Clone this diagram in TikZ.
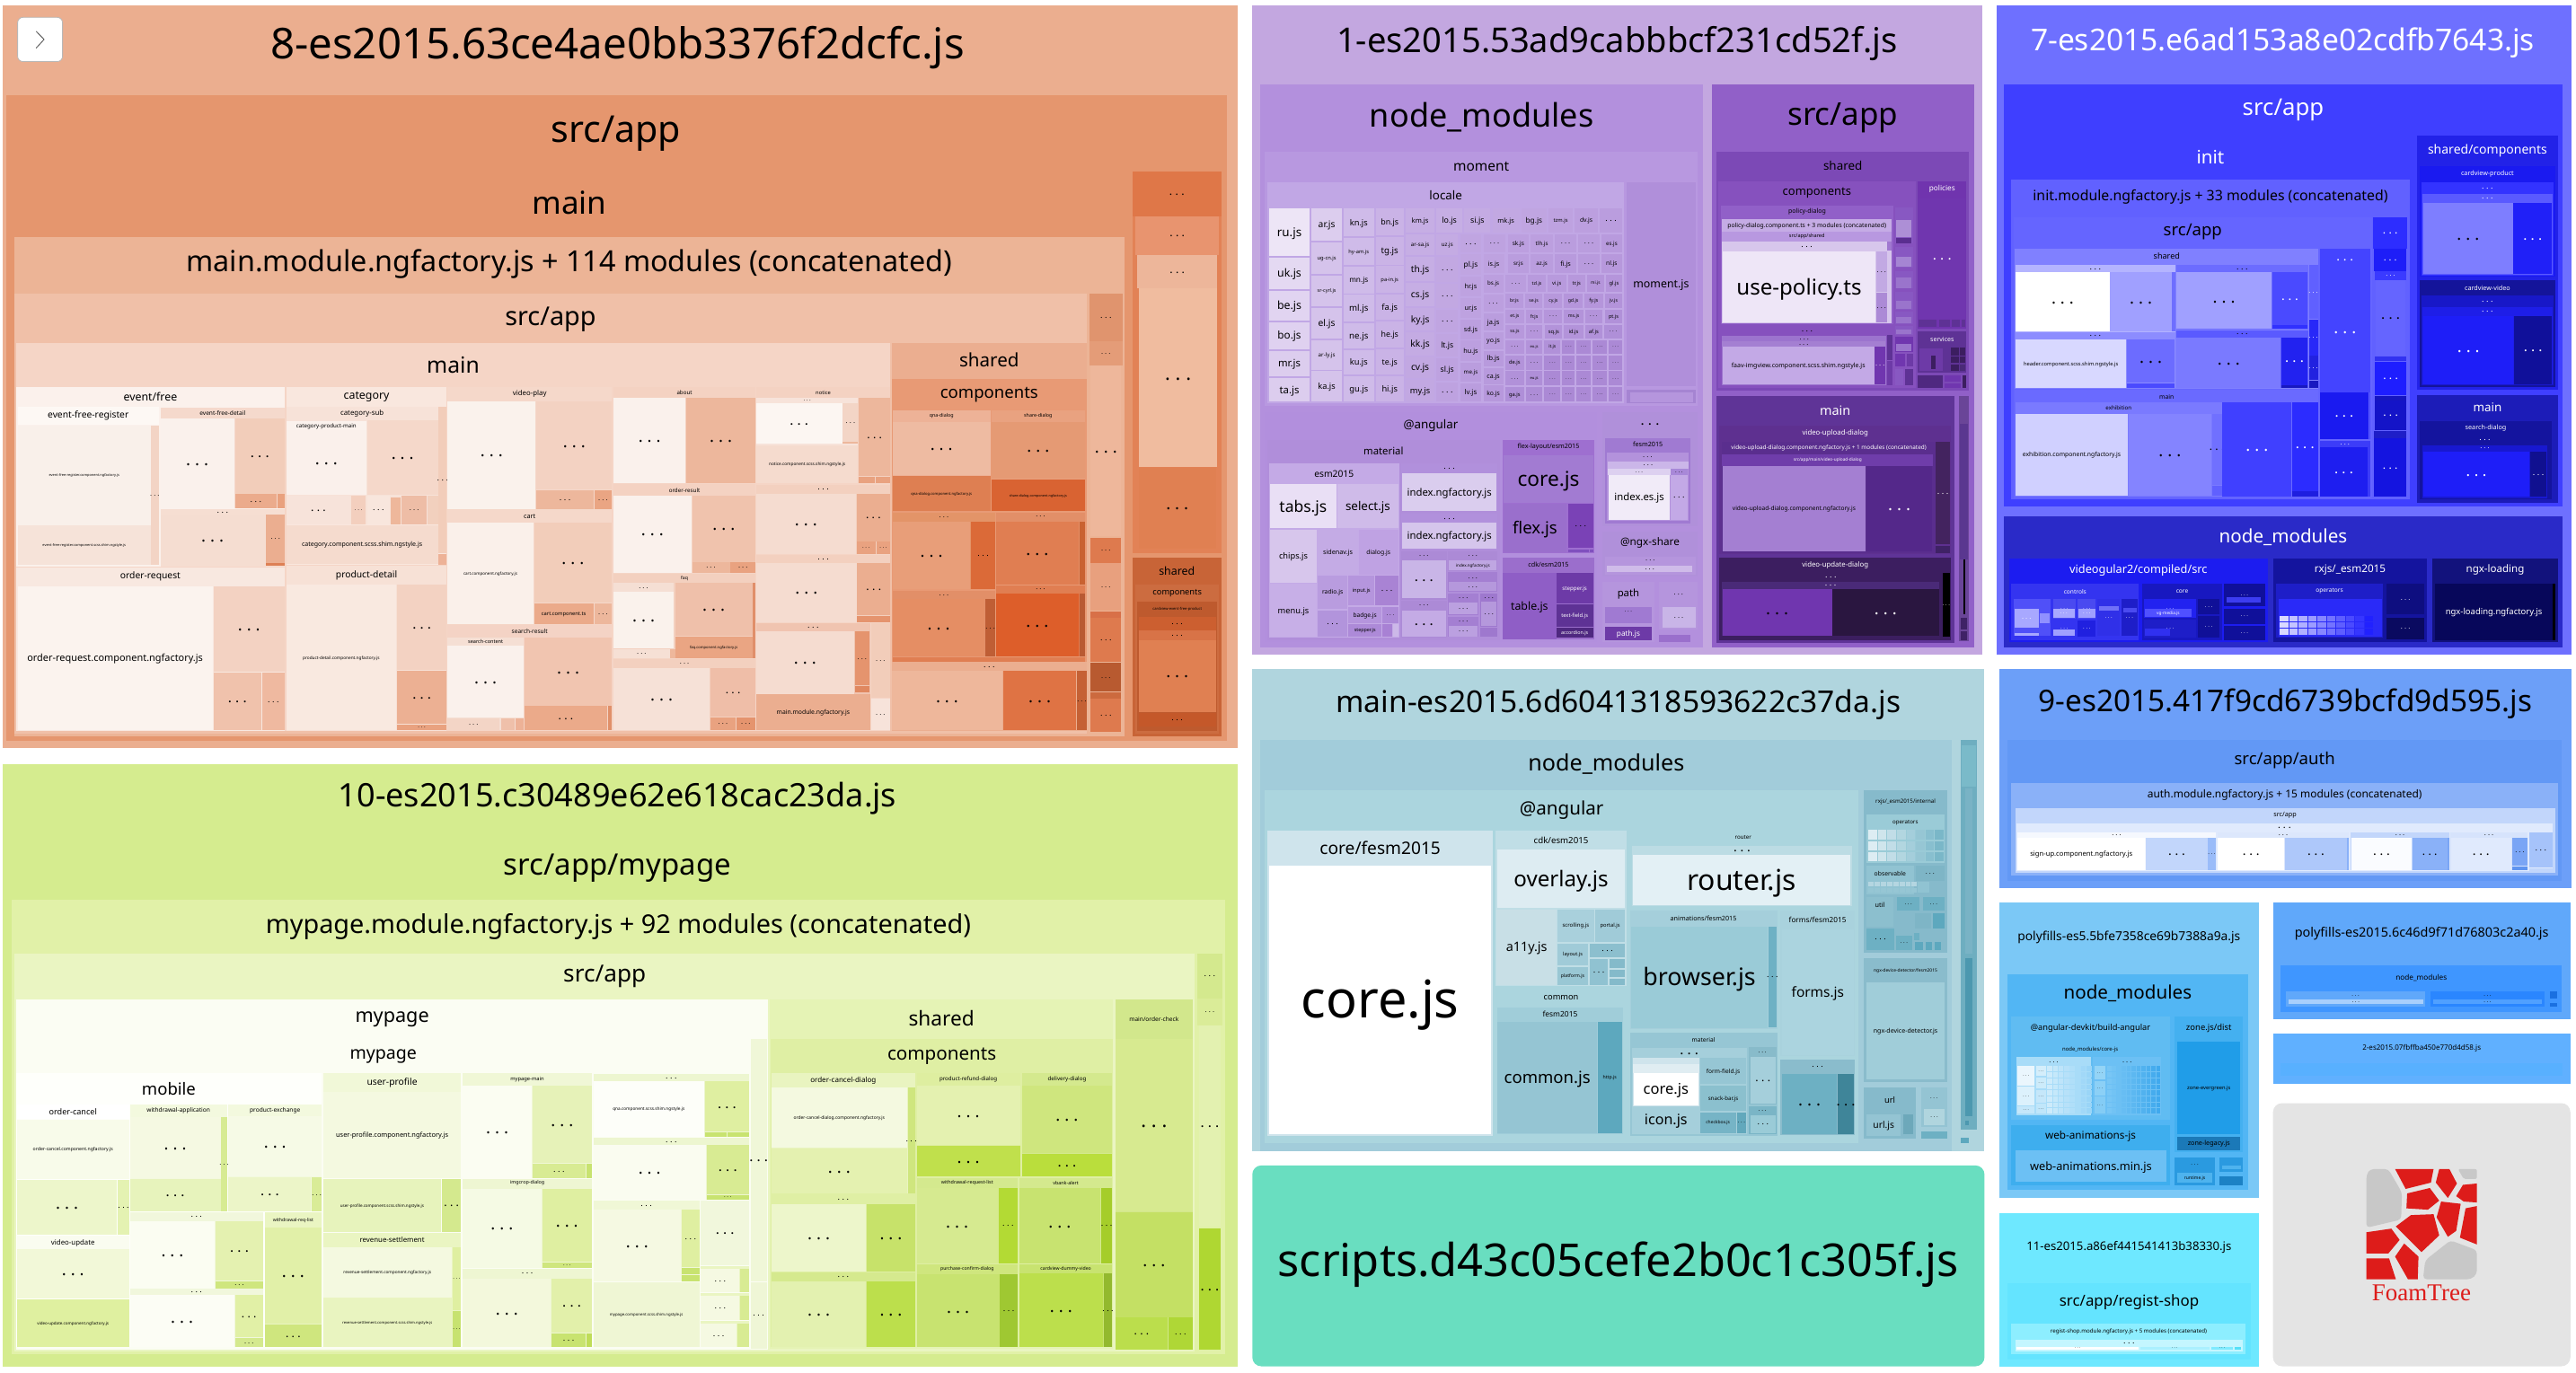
\documentclass[tikz,border=0pt]{standalone}
\usepackage{fontspec}
\setmainfont{Noto Sans}
\newfontfamily\logofont{Liberation Serif}
\newcount\nodeno
\tikzset{
  lbl/.style={/utils/exec={\global\advance\nodeno by 1},name=n\the\nodeno,inner sep=0pt,text=black},
  fs/.style={font=\fontsize{\fpeval{1.03*#1}}{\fpeval{1.03*#1}}\selectfont,yshift={-0.1pt*#1}},
  crop/.style n args={4}{shift={(#1pt,#2pt)},x=#3pt,y=#4pt},
  logored/.style={fill=logor},
  loggrey/.style={fill=logog}
}
\definecolor{logor}{HTML}{DD1C1A}
\definecolor{logog}{HTML}{C8C8C8}
\definecolor{btnline}{HTML}{B8B8B8}
\definecolor{scriptc}{HTML}{69DEC0}
\definecolor{panelc}{HTML}{E4E4E4}
\definecolor{corehi}{HTML}{D0ECFB}
\definecolor{corelo}{HTML}{88CEF6}
\definecolor{corebhi}{HTML}{78C6F5}
\definecolor{coreblo}{HTML}{3AA6EC}
\definecolor{tealhi}{HTML}{E3F0F5}
\definecolor{teallo}{HTML}{6DB0C3}
\newcommand{\D}{\bfseries\fontsize{\the\dimexpr1.5\fontdimen6\font}{1}\selectfont.\kern.27em.\kern.27em.}
\newcommand{\cells}[1]{\foreach \xa/\ya/\xb/\yb/\col in {#1}{%
  \edef\tmp{\noexpand\definecolor{cellc}{HTML}{\col}}\tmp
  \fill[cellc] (\xa,\ya) rectangle (\xb,\yb);}}
\newcommand{\tiles}[1]{\foreach \xa/\ya/\xb/\yb/\col/\fs/\txt in {#1}{%
  \edef\tmp{\noexpand\definecolor{cellc}{HTML}{\col}}\tmp
  \fill[cellc] (\xa,\ya) rectangle node[lbl,fs=\fs] {\txt} (\xb,\yb);}}
\newcommand{\groups}[1]{\foreach \xa/\ya/\xb/\yb/\col/\fs/\yl/\txt in {#1}{%
  \edef\tmp{\noexpand\definecolor{cellc}{HTML}{\col}}\tmp
  \fill[cellc] (\xa,\ya) rectangle (\xb,\yb);
  \pgfmathsetmacro\cx{(\xa+\xb)/2}
  \node[lbl,fs=\fs] at (\cx,\yl) {\txt};}}
\newcommand{\lbls}[1]{\foreach \xa/\ya/\fs/\txt in {#1}{%
  \node[lbl,fs=\fs] at (\xa,\ya) {\txt};}}
\begin{document}
\begin{tikzpicture}
\useasboundingbox (0pt,0pt) rectangle (1434pt,-764pt);
% bundle 8
\begin{scope}[crop={0}{0}{0.44643}{-0.26786}]
\cells{3/12/1543/1555/EBAE8F,8/198/1530/1540/E5966E}
\lbls{770/90/23/8-es2015.63ce4ae0bb3376f2dcfc.js,768/270/20/{src/app},710/415/17/main}
\fill[white,draw=btnline,rounded corners=3pt] (22,36) rectangle (78,128);
\draw[black!70] (45,65) -- (55,82) -- (45,100);
\groups{18/492/1402/1530/ECB496/15.7/543/main.module.ngfactory.js + 114 modules (concatenated),
18/610/1355/1525/F0C0A8/14/658/{src/app},20/713/1110/1520/F5D5C6/12/755/main,
1112/713/1355/1520/EBAE90/10/745/shared,1112/788/1355/1375/E89A75/9/818/components}
\cells{1412/450/1523/1150/E28256}
\tiles{1412/357/1523/450/DF7748/4/\D,1416/450/1520/530/E8946F/4/\D,1418/530/1518/600/EDB69A/4/\D,1420/600/1518/970/F0BC9F/7/\D,1420/972/1516/1140/E08052/6/\D}
\groups{1412/1160/1523/1530/C86437/6/1184/shared,1416/1215/1520/1525/CC6C40/4.5/1232/components,1418/1250/1518/1520/BE5A2E/2/1265/cardview-event-free-product}
\tiles{1420/1282/1516/1310/CC5F30/3/\D,1420/1310/1516/1330/D87347/3/\D,1420/1330/1516/1480/E08052/6/\D,1420/1482/1516/1510/C4582A/3/\D}
\tiles{1358/610/1400/710/E0946E/3/\D,1358/710/1400/760/E49C78/2.5/\D,1360/760/1398/1115/EEB79B/6/\D,1360/1118/1398/1170/DE7A4E/2.5/\D,1360/1170/1398/1270/E8A07E/2.5/\D,
1360/1285/1398/1375/DE7A4E/3/\D,1360/1378/1398/1438/B85A30/2.5/\D,1360/1452/1398/1522/DE7A4E/3/\D}
\cells{1360/1272/1398/1285/D87048,1360/1440/1398/1452/CC6A3E}
% main column
\groups{20/805/355/1178/FBF1EC/6/822/{event/free},22/846/198/882/FDF8F4/5/862/event-free-register}
\tiles{22/884/188/1092/F9F0EA/1.9/event-free-register.component.ngfactory.js,22/1092/188/1175/F6E3D9/1.9/event-free-register.component.scss.shim.ngstyle.js,188/884/198/1175/F3D4C5/2.5/\D}
\groups{200/848/355/1056/F5D9CC/3.2/857/event-free-detail}
\tiles{200/870/292/1056/FAF1EC/6/\D,293/870/355/1026/F2CDBA/5/\D,293/1027/345/1056/EBAB8C/3/\D}
\cells{346/1027/355/1056/E9A17E}
\groups{200/1058/355/1178/F6DED2/3/1064/\D}
\tiles{200/1070/330/1176/F5DDD1/6/\D,332/1070/355/1170/EBAE90/2.5/\D}
\cells{332/1170/355/1176/DD8055}
\groups{20/1180/355/1520/F8E8E0/5/1196/order-request}
\tiles{22/1218/265/1518/FBF3EE/5.3/order-request.component.ngfactory.js,266/1218/355/1396/F3D2C2/6/\D,266/1398/326/1518/F0C2AC/5/\D,327/1398/355/1518/EFB9A0/3/\D}
\groups{357/805/557/1175/F9E7DE/6/822/category,357/846/546/1090/F7E2D8/3.8/858/category-sub}
\tiles{357/895/457/1028/FAF0EB/6/\D,458/874/546/1028/F5D8CA/6/\D,357/1030/437/1090/F7E3DA/4/\D,438/1030/456/1090/F3CFBE/2/\D,458/1030/486/1090/F8E6DD/3/\D,501/1030/532/1090/EEBDA6/2.5/\D,
357/1092/546/1172/F5DBCE/3.4/category.component.scss.shim.ngstyle.js,547/846/557/1150/F2CDBA/3/\D}
\groups{357/875/457/895/FBF2ED/3/885/category-product-main}
\cells{487/1035/500/1090/EEB79B,533/1030/546/1090/F2D0BE,547/1152/557/1175/EDB297}
\groups{357/1176/557/1520/F7E1D6/5/1194/product-detail}
\tiles{357/1216/494/1518/F9E9E0/2.3/product-detail.component.ngfactory.js,495/1216/557/1392/F3D2C2/5/\D,495/1394/557/1505/ECB093/5/\D,495/1506/557/1518/E9A280/2/\D}
\groups{558/805/763/1058/F5D8CA/3.8/817/video-play}
\tiles{558/834/668/1058/FAF2EC/6/\D,669/834/763/1018/F3D2C2/6/\D,669/1020/740/1058/EDB79C/3/\D,741/1020/763/1058/EAA583/2.5/\D}
\groups{558/1058/763/1298/F5D8CA/3.5/1072/cart}
\tiles{558/1087/665/1298/FAF0EA/2.2/cart.component.ngfactory.js,666/1087/763/1253/F2CDBA/6/\D,666/1254/740/1298/EBAA8A/2.8/cart.component.ts,741/1254/763/1298/EDB79C/2.5/\D}
\groups{558/1299/763/1518/F4D3C5/3.2/1311/search-result,558/1325/653/1518/F5DFD4/2.7/1333/search-content}
\tiles{558/1342/653/1492/FAF1EC/6/\D,558/1494/623/1518/F3D5C6/2.5/\D,654/1325/763/1467/F1C5B0/6/\D,654/1468/757/1518/EBAA8A/4/\D}
\cells{625/1494/642/1518/EFC0AA,643/1494/653/1518/EDB297,758/1468/763/1518/E0906A}
\groups{765/805/942/1005/F4D2C2/3/815/about}
\tiles{765/827/855/1005/FAF1EC/6/\D,856/827/942/1005/EDB79C/6/\D}
\groups{765/1007/942/1190/F4D2C2/3/1018/order-result}
\tiles{765/1030/862/1190/FAF1EC/6/\D,863/1030/942/1168/F0C3AD/6/\D,863/1169/910/1190/EDB79C/2.5/\D,911/1169/942/1190/E9A280/2.5/\D}
\groups{765/1192/942/1368/F3D0BF/2.5/1201/faq,765/1212/840/1348/F5DFD4/2.5/1221/\D}
\tiles{765/1230/840/1348/FAF2EC/6/\D,765/1350/835/1368/F6E0D5/2.5/\D,842/1212/938/1322/EFC0AA/6/\D,842/1323/938/1368/EAA583/2/faq.component.ngfactory.js}
\cells{836/1350/842/1368/EEB79B,939/1212/942/1368/E08F6A}
\groups{765/1370/942/1518/F3D0BF/2.5/1379/\D}
\tiles{765/1388/885/1518/F6E1D7/6/\D,886/1388/942/1490/EFBEA8/4/\D,886/1491/917/1518/E9A280/2.5/\D,918/1491/942/1518/E5946E/2.5/\D}
\groups{943/805/1110/1005/F4D2C2/2.8/815/notice,943/827/1070/1005/F7E3DA/2/832/\D}
\tiles{943/838/1050/923/FCF6F2/5/\D,1051/838/1070/918/F3D5C6/2.5/\D,943/925/1070/1005/F5DBCE/2.3/notice.component.scss.shim.ngstyle.js,1071/827/1110/990/EDB79C/4/\D}
\cells{1051/918/1070/923/EDB79C,1071/991/1091/1005/E9A280,1092/991/1110/1005/E9A280}
\groups{943/1008/1110/1152/F3D0BF/3/1016/\D}
\tiles{943/1026/1067/1152/F5DCD0/6/\D,1068/1026/1110/1125/EBAE90/4/\D,1068/1126/1092/1152/E9A280/2/\D,1093/1126/1110/1152/E9A280/2/\D}
\groups{943/1154/1110/1293/F3D0BF/3/1161/\D}
\tiles{943/1170/1068/1293/F5DCD0/6/\D,1069/1170/1110/1278/EBAE90/4/\D}
\cells{1069/1280/1110/1293/E5946E}
\groups{943/1295/1085/1442/F0C4B0/3/1303/\D}
\tiles{943/1312/1065/1442/F5DCD0/6/\D,1066/1312/1084/1425/E5946E/2.5/\D,943/1443/1085/1518/EBAE90/3.3/main.module.ngfactory.js,1086/1295/1110/1450/F2CDBA/2.5/\D,1086/1453/1110/1518/F7E3DA/2.5/\D}
\cells{1066/1427/1084/1440/E08860}
% shared column
\groups{1113/853/1235/1062/EDB297/2.6/863/qna-dialog,1236/853/1353/1063/E9A280/2.6/863/share-dialog}
\tiles{1113/877/1235/988/EEBBA2/6/\D,1113/990/1235/1063/DE7F52/2/qna-dialog.component.ngfactory.js,1236/877/1353/995/E59A74/6/\D,1236/997/1353/1063/D96332/1.8/share-dialog.component.ngfactory.js}
\groups{1113/1065/1241/1225/E39468/2.5/1074/\D,1242/1065/1353/1215/E28F68/2.5/1073/\D}
\tiles{1113/1084/1210/1225/E89E79/6/\D,1211/1084/1241/1225/DB6A38/3/\D,1242/1084/1345/1215/E07E52/6/\D}
\cells{1346/1084/1353/1215/C96231}
\groups{1113/1228/1241/1365/E28F68/2.5/1236/\D,1242/1217/1353/1365/E07E52/2.5/1224/\D}
\tiles{1113/1245/1228/1365/E58E64/6/\D,1229/1245/1241/1365/BF5E35/2.5/\D,1242/1233/1345/1365/DD5E2A/6/\D}
\cells{1346/1233/1353/1365/B95A33,1113/1367/1353/1375/E07E52}
\groups{1112/1378/1355/1520/EBAE90/3/1386/\D}
\tiles{1112/1395/1250/1518/EEB79B/6/\D,1251/1395/1342/1518/DF7344/6/\D,1343/1395/1355/1518/C56135/2.5/\D}
\end{scope}
% bundle 10
\begin{scope}[crop={0}{-420}{0.44643}{-0.21939}]
\cells{3/25/1543/1555/D5EC8F}
\lbls{770/105/17.5/10-es2015.c30489e62e618cac23da.js,770/282/16/{src/app/mypage}}
\groups{14/370/1528/1522/E1F1A8/14/430/mypage.module.ngfactory.js + 92 modules (concatenated),18/505/1490/1515/EAF5C2/12.7/557/{src/app}}
\tiles{1493/505/1524/620/D4E98E/3/\D,1493/620/1524/688/DAEC98/2.5/\D,1495/688/1522/1198/E3F1B0/5/\D,1495/1204/1522/1510/AFD732/5/\D}
\groups{20/621/958/1510/FBFDF3/10.5/667/mypage,20/810/401/1505/FEFFFB/9/845/mobile}
\lbls{478/762/9.5/mypage}
\tiles{936/722/956/1338/F0F7D8/5/\D,936/1340/956/1508/EFF6D6/3/\D}
\groups{21/888/161/925/FFFFFF/4.4/906/order-cancel}
\tiles{21/927/161/1078/F8FBEA/2.5/order-cancel.component.ngfactory.js,21/1080/146/1220/EDF6CB/6/\D,147/1080/161/1220/E4F2B2/3/\D}
\groups{21/1222/161/1255/FAFCF0/3.8/1238/video-update}
\tiles{21/1256/161/1382/F2F8D8/6/\D,21/1384/161/1505/DFF0A0/2.2/video-update.component.ngfactory.js}
\groups{162/888/283/1160/F3F9DE/3.2/903/withdrawal-application}
\tiles{162/920/275/1076/F5F9E2/6/\D,162/1078/275/1160/E7F3BC/5/\D,276/920/283/1160/D7EB93/2.5/\D}
\groups{285/888/401/1160/F3F9DE/3.2/903/product-exchange}
\tiles{285/918/401/1072/F6FAE6/6/\D,285/1074/388/1160/ECF5C8/5/\D,389/1074/401/1160/D9EC97/2.5/\D}
\groups{162/1163/328/1355/F1F7DC/3/1173/\D}
\tiles{162/1185/268/1355/FBFDF2/6/\D,269/1185/328/1335/E4F1B0/5/\D,269/1337/328/1355/CFE67E/2.5/\D}
\groups{162/1357/328/1505/F1F7DC/3/1364/\D}
\tiles{162/1373/292/1505/FCFDF5/6/\D,293/1373/328/1480/E1F0A6/4/\D,293/1482/328/1505/D4E98E/2.5/\D}
\groups{330/1163/401/1505/EAF5C2/2.5/1181/withdrawal-req-list}
\tiles{330/1200/401/1445/E1F0A8/6/\D,330/1447/401/1505/CFE67E/4/\D}
\groups{403/810/575/1075/F1F8D8/5/832/user-profile}
\tiles{403/857/575/1075/F4F9E0/3.6/user-profile.component.ngfactory.js,403/1077/550/1213/E7F3BC/2.2/user-profile.component.scss.shim.ngstyle.js,551/1077/575/1213/D4E98E/4/\D}
\groups{403/1215/575/1505/EAF5C2/3.8/1231/revenue-settlement}
\tiles{403/1250/563/1378/F4F9E0/2.3/revenue-settlement.component.ngfactory.js,403/1380/563/1505/E9F4C0/2/revenue-settlement.component.scss.shim.ngstyle.js,564/1250/575/1410/DFEFA1/2/\D,564/1412/575/1505/C7E270/2/\D}
\groups{577/810/738/1075/F0F7D6/2.8/824/mypage-main}
\tiles{577/841/663/1075/FBFDF2/6/\D,664/841/738/1038/E6F2B8/6/\D,664/1040/730/1075/D8EB93/3/\D}
\cells{731/1040/738/1075/C8E370}
\groups{577/1077/738/1303/EEF6D2/2.6/1087/imgcrop-dialog}
\tiles{577/1102/675/1303/F5FAE4/6/\D,676/1102/738/1288/DFEFA1/6/\D,676/1289/738/1303/CFE67E/2/\D}
\groups{577/1306/738/1505/EEF6D2/3/1317/\D}
\tiles{577/1330/687/1505/F3F8DC/6/\D,688/1330/738/1468/E2F0AA/5/\D,688/1470/730/1505/C8E370/3/\D}
\cells{731/1470/738/1505/BFDD58}
\groups{740/812/934/970/EDF6D0/3/821/\D}
\tiles{740/830/878/970/FDFEF9/2.3/qna.component.scss.shim.ngstyle.js,879/830/934/958/DFEFA1/5/\D}
\cells{879/960/906/970/C8E370,907/960/934/970/C8E370}
\groups{740/973/934/1130/EDF6D0/3/984/\D}
\tiles{740/992/880/1130/FAFCF0/6/\D,881/992/934/1117/D8EB93/5/\D,881/1118/934/1130/C8E370/2/\D}
\groups{740/1133/872/1338/F0F7D6/3/1144/\D}
\tiles{740/1155/849/1338/F5F9E2/6/\D,850/1155/872/1302/DFEFA1/3/\D}
\cells{850/1304/872/1320/C8E370,850/1322/872/1338/C8E370}
\tiles{874/1133/934/1296/F1F7DC/5/\D}
\cells{874/1298/934/1366/EAF5C2,874/1368/934/1435/EAF5C2,874/1437/934/1505/EAF5C2}
\tiles{874/1305/922/1366/F5F9E2/3/\D,874/1375/922/1435/F5F9E2/3/\D,874/1445/918/1505/F5F9E2/3/\D}
\cells{923/1305/934/1366/D8EB93,923/1375/934/1435/D8EB93,919/1445/934/1505/D8EB93}
\tiles{740/1340/872/1505/EFF6D4/2.1/mypage.component.scss.shim.ngstyle.js}
\groups{960/621/1388/1508/E5F3B5/11/665/shared,961/722/1388/1505/DFEFA4/10/762/components}
\groups{962/810/1141/1115/E9F4C0/3.9/827/order-cancel-dialog}
\tiles{962/846/1131/998/F4F9E0/2.4/order-cancel-dialog.component.ngfactory.js,962/1000/1131/1115/E4F1B0/6/\D,1132/846/1141/1115/CFE67E/3/\D}
\groups{962/1117/1141/1312/DFEFA4/3/1130/\D}
\tiles{962/1142/1080/1312/EDF6CB/6/\D,1081/1142/1141/1312/C7E26A/6/\D}
\groups{962/1314/1141/1505/D5E98E/3/1326/\D}
\tiles{962/1338/1080/1505/E3F1B0/6/\D,1081/1338/1141/1505/BCDF4C/6/\D}
\groups{1143/810/1272/1072/DEEEA0/3/824/product-refund-dialog}
\tiles{1143/841/1272/992/E4F1B0/6/\D,1143/994/1272/1072/C0E04C/6/\D}
\groups{1274/810/1387/1072/D4E98E/3/824/delivery-dialog}
\tiles{1274/841/1387/1012/CFE67E/6/\D,1274/1014/1387/1072/BADE3C/5/\D}
\groups{1143/1075/1269/1292/D4E98E/2.6/1087/withdrawal-request-list}
\tiles{1143/1100/1244/1292/D6EA90/6/\D,1245/1100/1269/1292/B3DA34/3/\D}
\groups{1271/1075/1387/1292/D4E98E/2.6/1087/vbank-alert}
\tiles{1271/1100/1372/1292/C8E370/6/\D,1373/1100/1387/1292/A5CD2A/3/\D}
\groups{1143/1295/1269/1505/CFE67E/2.5/1305/purchase-confirm-dialog}
\tiles{1143/1320/1246/1505/C8E370/6/\D,1247/1320/1269/1505/9FC832/3/\D}
\groups{1271/1295/1387/1505/C8E370/2.5/1305/cardview-dummy-video}
\tiles{1271/1318/1375/1505/BCDF4C/6/\D,1376/1318/1387/1505/93B92E/3/\D}
\groups{1391/621/1487/1510/D2E78C/3.2/670/{main/order-check}}
\tiles{1391/722/1487/1160/D7EA90/7/\D,1391/1162/1487/1428/C4E064/6/\D,1391/1430/1456/1510/BBDE4C/4/\D,1457/1430/1487/1510/AFD736/3/\D}
\end{scope}
% bundle 1
\begin{scope}[crop={695}{0}{0.26467}{-0.23597}]
\cells{8/13/1543/1545/C3A7E0}
\lbls{775/95/18.5/1-es2015.53ad9cabbbcf231cd52f.js}
\groups{25/200/956/1527/B390DD/17.5/270/node\_modules,34/358/945/958/B898E0/7.5/390/moment,40/430/790/952/C1A7E5/6.5/457/locale}
\tiles{796/430/940/912/B08FDA/6/moment.js}
\cells{796/920/940/952/A584D2,802/925/935/950/B595DD}
\tiles{43/492/129/604/EDE5F6/6.5/ru.js,43/608/129/682/E4D9F2/6/uk.js,43/686/129/756/E1D4F1/6/be.js,43/760/129/824/DFD1F0/5.7/bo.js,43/828/129/888/DCCDEE/5.5/mr.js,43/892/129/948/DCCDEE/5.5/ta.js,
133/492/196/568/DCCDEE/5/ar.js,133/572/196/646/D5C3EB/2.8/ug-cn.js,133/650/196/722/D5C3EB/2.6/sr-cyrl.js,133/726/196/798/D5C3EB/5/el.js,133/802/196/872/D5C3EB/3/ar-ly.js,133/876/196/948/D5C3EB/4.5/ka.js,
200/492/264/558/CFBBE9/4.5/kn.js,200/562/264/626/CFBBE9/2.8/hy-am.js,200/630/264/692/CFBBE9/4/mn.js,200/696/264/758/CFBBE9/4.7/ml.js,200/762/264/822/CFBBE9/4.7/ne.js,200/826/264/884/CFBBE9/4.5/ku.js,200/888/264/948/CFBBE9/4.5/gu.js,
268/492/326/556/CAB3E6/4.3/bn.js,268/560/326/624/CAB3E6/4.7/tg.js,268/628/326/690/CAB3E6/2.8/pa-in.js,268/694/326/754/CAB3E6/4.5/fa.js,268/758/326/820/CAB3E6/4.3/he.js,268/824/326/884/CAB3E6/4.3/te.js,268/888/326/948/CAB3E6/4.5/hi.js,
331/492/391/548/C6AEE4/3.7/km.js,395/492/450/548/C6AEE4/4.3/lo.js,454/492/509/548/C4ABE3/4.3/si.js,513/492/570/548/C2A8E2/3.6/mk.js,574/492/627/548/C0A5E1/4/bg.js,631/492/682/548/BEA2E0/2.8/tzm.js,686/492/735/548/BC9FDF/3.3/dv.js,739/492/786/548/BA9DDE/3/\D,
331/552/391/602/C6AEE4/3/ar-sa.js,331/606/391/664/C6AEE4/5/th.js,331/668/391/722/C6AEE4/5/cs.js,331/726/391/780/C4ABE3/5/ky.js,331/784/391/838/C4ABE3/5/kk.js,331/842/391/892/C2A8E2/5/cv.js,331/896/391/948/C2A8E2/4.5/my.js,
395/552/441/602/C4ABE3/3/uz.js,395/606/441/666/C2A8E2/3/\D,395/670/441/726/C2A8E2/3/\D,395/730/441/784/C0A5E1/3/\D,395/788/441/842/C0A5E1/4.2/lt.js,395/846/441/898/BEA2E0/4.2/sl.js,395/902/441/948/BEA2E0/3/\D,
445/552/490/596/C0A5E1/3/\D,445/600/490/648/C0A5E1/4/pl.js,445/652/490/700/BEA2E0/3.5/hr.js,445/704/490/750/BEA2E0/3.5/ur.js,445/754/490/800/BC9FDF/3.5/sd.js,445/804/490/852/BC9FDF/3.5/hu.js,445/856/490/900/BA9DDE/3/me.js,445/904/490/948/BA9DDE/3.8/lv.js,
494/552/541/596/BEA2E0/2.5/\D,494/600/538/644/BEA2E0/3.5/is.js,494/648/536/690/BC9FDF/3/bs.js,494/694/536/736/BC9FDF/2.5/\D,494/740/536/780/BA9DDE/3.6/ja.js,494/784/536/824/BA9DDE/3.4/yo.js,494/828/536/864/B89ADD/3.6/lb.js,494/868/536/906/B89ADD/3.4/ca.js,494/910/536/948/B798DC/3.3/ko.js,
545/552/590/596/BC9FDF/3.2/sk.js,594/552/640/596/BC9FDF/3/tlh.js,644/552/690/596/BA9DDE/2.5/\D,694/552/738/596/BA9DDE/2.5/\D,742/552/786/596/B89ADD/3/es.js,
545/600/590/644/BA9DDE/3/sr.js,594/600/640/644/BA9DDE/3/az.js,644/600/690/644/B89ADD/3.5/fi.js,694/600/738/644/B89ADD/2.5/\D,742/600/786/644/B798DC/3.2/nl.js,
540/648/584/688/BA9DDE/2.2/\D,588/648/625/688/B89ADD/2.5/tzl.js,629/648/668/688/B89ADD/2.8/vi.js,672/648/708/688/B798DC/2.8/tr.js,712/648/748/688/B595DB/2.3/mi.js,752/648/786/688/B595DB/2.8/gl.js,
540/692/578/726/B89ADD/2.5/br.js,582/692/618/726/B89ADD/2.5/se.js,622/692/660/726/B798DC/2.5/cy.js,664/692/702/726/B595DB/2.5/gd.js,706/692/746/726/B595DB/2.7/fy.js,750/692/786/726/B393DA/2.5/jv.js,
540/730/580/762/B89ADD/2.5/et.js,584/730/618/762/B798DC/2.6/fr.js,622/730/660/762/B595DB/2/\D,664/730/704/762/B393DA/2.5/ms.js,708/730/744/762/B393DA/2/\D,750/730/786/762/B191D9/2.7/pt.js,
540/766/580/798/B798DC/2.5/ss.js,584/766/618/798/B595DB/2/\D,624/766/660/798/B393DA/2.8/sq.js,664/766/704/798/B393DA/2.8/id.js,708/766/744/798/B191D9/2.8/af.js,748/766/786/798/AF8FD8/2/\D,
540/802/580/834/B595DB/2/\D,584/802/618/834/B393DA/2/eo.js,622/802/656/834/B191D9/2.4/it.js,
540/838/580/872/B393DA/2.8/de.js,584/838/618/872/B191D9/2/\D,
540/876/580/910/B191D9/2/\D,584/876/618/910/AF8FD8/2/eu.js,
540/914/580/948/AF8FD8/2.8/ga.js,584/914/618/948/AD8CD6/2/\D}
\definecolor{cellc}{HTML}{AB89D5}
\foreach \ua/\ub in {802/834,838/872,876/910,914/948}{\foreach \va/\vb in {660/686,690/720,724/754,758/786}{\fill[cellc] (\va,\ua) rectangle node[lbl,fs=1.6]{\D} (\vb,\ub);}}
\foreach \ua/\ub in {838/872,876/910,914/948}{\fill[cellc] (622,\ua) rectangle node[lbl,fs=1.6]{\D} (656,\ub);}
\groups{34/972/733/1515/B28FDD/6.5/1002/@angular,40/1038/528/1510/B08EDA/5.5/1062/material,43/1094/317/1505/C4AAE6/5/1116/esm2015}
\tiles{45/1143/185/1246/E9DFF5/8.5/tabs.js,187/1143/315/1246/CFBBE9/6.5/select.js,45/1250/144/1375/D7C6EC/4.5/chips.js,146/1250/230/1356/C4ABE5/3.5/sidenav.js,232/1250/315/1356/BFA2E3/3.3/dialog.js,45/1378/144/1503/C7AFE7/4.5/menu.js,146/1358/208/1436/B99CDF/3.3/radio.js,210/1358/265/1428/B595DD/2.8/input.js,267/1358/315/1428/A983D4/3/\D,146/1440/208/1503/B294DC/3/\D,210/1432/280/1470/B595DD/3.2/badge.js,282/1432/315/1470/AD8AD8/2/\D,210/1472/280/1503/AD8AD8/2.6/stepper.js}
\cells{282/1472/302/1503/A881D4,304/1472/315/1503/CCB8E8}
\groups{321/1094/524/1205/B190DC/3/1104/\D,321/1212/524/1296/B190DC/3/1223/\D}
\tiles{323/1117/522/1205/DACDEE/5.5/index.ngfactory.js,323/1234/522/1294/D5C5EC/5.5/index.ngfactory.js}
\groups{321/1300/417/1415/AC8AD6/2.5/1310/\D,420/1300/524/1348/AC8AD6/2.5/1310/\D,420/1350/524/1396/A47FD2/2.5/1364/\D,321/1418/417/1505/AC8AD6/2.5/1428/\D,420/1400/484/1452/A47FD2/2.5/1410/\D,420/1456/484/1503/A47FD2/2.5/1466/\D,488/1400/524/1478/9E78CE/2.5/1410/\D}
\tiles{323/1322/415/1412/C9B5E7/5/\D,422/1322/522/1346/BFA6E2/2.2/index.ngfactory.js,422/1374/522/1394/B598DC/2.5/\D,323/1440/415/1502/C4ABE5/5/\D,422/1422/482/1450/BBA0E0/2.5/\D,422/1476/482/1502/BBA0E0/2.5/\D,490/1420/522/1476/B598DC/2.5/\D}
\cells{488/1482/524/1503/9E78CE}
\groups{535/1038/727/1306/9E6FD0/3.5/1053/{flex-layout/esm2015}}
\tiles{537/1075/725/1186/A27BD2/11/core.js,537/1188/668/1304/9A6FCC/9/flex.js,672/1188/725/1292/7A42B6/3/\D}
\cells{672/1296/716/1304/8050BE,718/1296/725/1304/8050BE}
\groups{535/1316/727/1508/9B6ECC/3.5/1331/{cdk/esm2015}}
\tiles{535/1352/647/1508/8F5EC6/6/table.js}
\begin{scope}[lbl/.append style={text=white}]
\tiles{647/1352/725/1424/6D3AA7/3/stepper.js,647/1426/725/1478/5E3295/2.8/text-field.js,647/1480/725/1505/4F2880/2.6/accordion.js}
\end{scope}
\groups{744/972/945/1242/B090DA/5/1000/\D,750/1033/930/1236/A07AD2/3.5/1047/fesm2015,754/1068/925/1228/B392DC/2.5/1078/\D,756/1090/925/1105/CBB6E9/2.5/1097/\D}
\tiles{756/1107/887/1120/DDD0F0/2/\D,888/1107/923/1120/A888D8/2/\D,758/1120/886/1226/F1EBF8/5.5/index.es.js,888/1120/923/1226/C3A9E6/3/\D}
\groups{744/1254/945/1360/B090DA/5.7/1279/@ngx-share,750/1314/940/1355/B595DD/2.5/1322/\D}
\tiles{754/1335/934/1350/CFBBE9/2.5/\D}
\groups{744/1373/854/1515/B595DD/5.5/1399/path,750/1432/848/1470/A07AD2/2/1443/\D}
\begin{scope}[lbl/.append style={text=white}]
\tiles{750/1478/848/1510/6D3AA7/4/path.js}
\end{scope}
\groups{864/1373/945/1485/B595DD/2.5/1402/\D}
\tiles{870/1432/940/1480/C9B5E7/2.5/\D}
\cells{864/1498/930/1515/9A6FCC}
\groups{975/200/1526/1527/9160C8/17/270/{src/app},984/358/1516/922/7C49B6/6.5/388/shared,988/428/1403/916/8651BE/6.3/452/components,994/485/1356/765/9160C8/3.4/498/policy-dialog,996/518/1353/763/C5ACE5/3.3/531/policy-dialog.component.ts + 3 modules (concatenated),996/546/1353/763/B898E0/2.7/557/{src/app/shared},996/570/1353/763/D7C6EC/3/581/\D}
\tiles{997/593/1319/761/EEE6F7/11.7/use-policy.ts,1320/593/1343/688/C2A9E3/2.5/\D,1320/690/1343/761/AC8AD6/2.5/\D}
\cells{1344/570/1353/592/A078D0,1360/490/1397/575/8858C2,1362/520/1395/560/AD8FD6,1362/562/1395/575/5A2E90,1360/583/1397/632/8858C2,1362/605/1395/630/A585D3,1360/640/1397/680/8858C2,1362/655/1395/680/9A74CC,1360/688/1397/730/8858C2,1362/710/1395/728/9A74CC,1360/735/1397/765/8858C2,1362/748/1395/763/9A74CC,
1360/770/1397/790/8858C2,1362/778/1395/788/9A74CC,1360/795/1397/830/7036AF,1362/812/1395/828/9A74CC,1360/835/1380/865/7036AF,1384/835/1397/865/6D3AA7,1360/870/1378/908/8858C2,1380/870/1397/908/5E3295}
\groups{994/770/1356/910/8651BE/3/781/\D,996/793/1342/908/9C74CE/2.5/799/\D,996/806/1340/818/A47FD2/2.5/812/\D}
\tiles{997/818/1316/906/C3A9E6/3.4/faav-imgview.component.scss.shim.ngstyle.js}
\begin{scope}[lbl/.append style={text=white}]
\tiles{1317/818/1340/906/7036AF/2.5/\D}
\cells{1344/790/1354/850/5E3295,1344/852/1354/908/6D3AA7}
\groups{1408/428/1510/775/7034AE/4/444/policies}
\tiles{1410/468/1508/752/7036AF/5/\D}
\cells{1410/755/1448/772/5E3295,1452/755/1476/772/5E3295,1480/755/1497/772/5E3295,1500/755/1508/772/5E3295}
\groups{1408/782/1510/880/5E3295/3.4/800/services}
\cells{1412/822/1460/875/6D3AA7,1436/840/1446/870/3C1E60,1478/820/1495/838/3C1E60,1497/820/1507/838/3C1E60,1478/842/1495/855/3C1E60,1497/842/1507/855/3C1E60,1478/860/1495/875/3C1E60,1497/860/1507/875/4A2A78,1408/885/1460/915/4F2880,1465/885/1498/900/7036AF,1465/904/1498/915/7036AF,1502/885/1510/915/3C1E60}
\groups{984/934/1484/1517/5F3497/7/965/main,990/1005/1478/1308/5E3090/3.8/1021/video-upload-dialog,996/1042/1445/1305/5A2E8E/3.1/1056/video-upload-dialog.component.ngfactory.js + 1 modules (concatenated),996/1072/1440/1100/6F3DAA/2.3/1084/{src/app/main/video-upload-dialog}}
\tiles{1300/1100/1438/1300/54288A/6/\D,1446/1042/1475/1285/43235F/3/\D}
\cells{1446/1288/1475/1305/3F2266}
\end{scope}
\tiles{997/1100/1298/1300/A47FD2/3.2/video-upload-dialog.component.ngfactory.js}
\begin{scope}[lbl/.append style={text=white}]
\groups{990/1316/1478/1510/3C1E60/3.8/1333/video-update-dialog,996/1374/1453/1500/4A2A78/3/1381/\D}
\lbls{1225/1362/3/\D}
\tiles{1228/1390/1452/1500/2A1640/6/\D,1460/1352/1475/1503/000000/2/\D}
\end{scope}
\tiles{997/1390/1227/1500/7036AF/6/\D}
\cells{1494/934/1516/1512/6A4598,1496/1000/1514/1320/5A3790,1503/1320/1507/1450/000000,1498/1458/1512/1485/3F2266,1498/1490/1512/1510/3F2266}
\end{scope}
% bundle 7
\begin{scope}[crop={1105}{0}{0.20982}{-0.23597},lbl/.append style={text=white}]
\cells{30/13/1555/1545/6E70FF}
\lbls{790/95/16.3/7-es2015.e6ad153a8e02cdfb7643.js}
\groups{50/200/1532/1196/3F3FFF/12.5/254/{src/app}}
\lbls{598/366/10/init}
\begin{scope}[lbl/.append style={text=black}]
\groups{70/423/1126/1178/6161FF/7.7/462/init.module.ngfactory.js + 33 modules (concatenated),75/512/1027/1175/6565FF/9/543/{src/app},79/587/885/918/8080FF/4.4/602/shared,80/626/505/783/B4B4FF/3/634/\D,507/626/858/778/6C6CFF/3/634/\D}
\tiles{81/643/331/781/FFFFFF/6/\D,332/643/495/781/A0A0FF/6/\D,508/643/760/776/A0A0FF/6/\D}
\cells{496/643/505/781/6E6EFF}
\groups{80/785/505/916/8C8CFF/3/792/\D,507/780/858/916/5A5AFF/3/787/\D}
\tiles{81/800/375/916/D8D8FF/2.8/header.component.scss.shim.ngstyle.js,377/800/503/903/6C6CFF/6/\D,508/796/785/916/7A7AFF/6/\D}
\groups{79/920/885/1172/6A6AFF/3.3/935/main,81/950/628/1172/7A7AFF/3/961/exhibition}
\tiles{81/976/379/1170/D0D0FF/3.3/exhibition.component.ngfactory.js,380/976/601/1170/8484FF/6/\D,602/976/628/1145/7070FF/4/\D}
\end{scope}
\tiles{762/643/856/767/4A4AFF/4.5/\D,859/626/883/752/6060FF/2.5/\D,859/755/883/838/2828F8/2.5/\D,859/840/883/896/2222E0/2.5/\D,786/796/856/908/2222F0/5/\D,630/950/813/1172/4040FF/6/\D,814/950/884/1158/2C2CFF/5/\D}
\cells{762/768/856/776/3030FF,859/898/883/916/1818C0,377/905/503/916/4A4AFF,786/910/856/916/1818C0,602/1147/628/1170/6060FF,814/1160/884/1172/1E1EE0}
\groups{888/587/1022/925/4444FF/4.5/612/\D}
\lbls{955/782/6/\D}
\tiles{888/925/1018/1037/1A1AF0/5/\D}
\cells{1019/925/1022/1037/4444FF}
\groups{888/1040/1022/1172/3C3CF8/2.5/1048/\D}
\tiles{888/1056/1016/1172/1E1EF0/5/\D,1030/512/1120/587/2D2DFF/4/\D,1032/587/1118/640/1E1EF8/3.5/\D,1034/640/1118/660/3A3AFF/2.5/\D}
\begin{scope}[lbl/.append style={text=black}]
\tiles{1036/660/1116/840/6565FF/5/\D}
\end{scope}
\cells{1034/842/1118/852/3232F0,1034/935/1118/945/1616C0,1032/1017/1118/1035/1E1EC8}
\tiles{1034/853/1118/933/1E1EFF/4/\D,1034/945/1118/1015/1414C8/4/\D,1032/1035/1118/1172/1414E0/4/\D}
\groups{1146/320/1520/920/2222E8/6.8/352/{shared/components},1154/393/1512/652/1A1AF0/3.5/409/cardview-product,1158/430/1508/650/3333FF/3/443/\D,1160/457/1506/648/5A5AFF/3/467/\D}
\begin{scope}[lbl/.append style={text=black}]
\tiles{1163/479/1400/646/7E7EFF/6/\D}
\end{scope}
\tiles{1402/479/1504/646/2020F8/5/\D}
\groups{1154/662/1512/914/14149A/3.5/678/cardview-video,1158/698/1508/908/1818C8/3/710/\D,1160/725/1506/906/1E1EE8/3/734/\D}
\tiles{1163/746/1402/906/1E1EF8/6/\D,1404/746/1504/906/10109A/5/\D}
\groups{1146/933/1520/1186/1C1CB8/6.5/958/main,1154/993/1503/1178/14149E/3.5/1009/search-dialog}
\lbls{1326/1038/3/\D}
\groups{1160/1050/1492/1175/1818D0/2.5/1057/\D}
\tiles{1163/1066/1444/1172/1E1EF8/5.5/\D,1446/1066/1490/1172/101090/3/\D}
\groups{50/1218/1532/1527/2A2AC8/10/1263/node\_modules,64/1318/750/1515/1C1CF0/6.2/1343/{videogular2/compiled/src},70/1378/408/1510/3434F0/3.2/1394/controls,418/1378/628/1510/1818C0/3.2/1394/core,765/1318/1172/1515/14149E/5.7/1343/{rxjs/\_esm2015},772/1378/1056/1505/1E1EC8/3.2/1394/operators,1187/1318/1520/1515/12127C/5.6/1343/ngx-loading}
\tiles{76/1414/175/1500/5050F8/2.5/\D,180/1414/240/1460/4A4AF0/2/\D,246/1414/294/1460/4A4AF0/2/\D,298/1414/358/1500/3030E8/2/\D,362/1414/404/1500/1E1EC8/2/\D,180/1464/240/1502/3434F0/2/\D,246/1464/294/1502/2020E0/2/\D,
422/1414/560/1458/2222F0/2/\D,565/1414/622/1450/101098/2/\D,422/1462/560/1504/1E1EC8/2/\D,565/1454/622/1504/101098/2/\D,634/1378/743/1430/10109A/2/\D,634/1436/743/1472/10109A/2/\D,634/1476/743/1510/10109A/2/\D}
\tiles{78/1437/142/1482/A8A8FF/2.5/\D,180/1437/238/1458/A8A8FF/2/\D,248/1437/292/1458/A0A0FF/2/\D,424/1436/548/1456/5050FF/2.3/vg-media.js}
\cells{78/1494/142/1500/A8A8FF,180/1486/238/1500/A0A0FF,146/1448/172/1470/9090FF,302/1430/355/1440/7070F8,366/1434/402/1446/4A4AF0,640/1408/732/1422/3C3CF0,424/1484/490/1500/3030F0,1075/1440/1145/1444/3030F8}
\tiles{778/1414/1052/1502/2A2AF8/3/\D}
\foreach \i in {0,...,9}{\foreach \j in {0,1,2}{\pgfmathtruncatemacro\pct{85-8*\i}
\pgfmathsetmacro\xl{782+25*\i}\pgfmathsetmacro\yl{1454+15*\j}
\fill[white!\pct!blue] (\xl,\yl) rectangle ++(23,13);}}
\tiles{1065/1378/1166/1450/0E0E80/2.5/\D,1065/1458/1166/1508/0A0A60/2.5/\D,1194/1378/1506/1510/07075A/4.6/ngx-loading.ngfactory.js}
\cells{1507/1378/1513/1510/000000}
\end{scope}
% main bundle and scripts
\begin{scope}[crop={695}{-370}{0.26467}{-0.25128}]
\cells{8/10/1548/1078/B0D5DE}
\lbls{778/82/16.3/main-es2015.6d6041318593622c37da.js}
\fill[scriptc,rounded corners=5pt] (8,1110) rectangle (1548,1555);
\lbls{778/1320/24.5/scripts.d43c05cefe2b0c1c305f.js}
\groups{25/167/1480/1078/A2CCDA/12.2/216/node\_modules,34/278/1283/1060/ABD5DE/10/318/@angular,40/368/514/1045/CFE4EC/9.3/403/{core/fesm2015}}
\tiles{44/446/510/1041/FFFFFF/28/core.js}
\groups{520/368/795/712/C0DEE6/4.7/387/{cdk/esm2015}}
\tiles{523/410/792/540/DDECF2/11.7/overlay.js,522/543/648/710/C8DFE6/7/a11y.js,650/543/727/614/A9D0DC/2.9/scrolling.js,729/543/792/614/A0CBD8/2.8/portal.js,650/618/714/666/A0CBD8/2.7/layout.js,718/618/792/648/8CBFCE/3/\D,650/670/714/710/99C7D4/2.5/platform.js,718/652/756/710/90C2D1/3/\D}
\cells{760/652/792/672/84BACA,760/676/792/692/84BACA,760/696/792/710/84BACA}
\groups{520/718/795/1045/ABD5DE/4.5/737/common,524/760/787/1040/A0CDD9/4.1/773/fesm2015}
\tiles{524/792/733/1038/95C5D3/9/common.js,735/792/785/1038/5DA8BE/2.5/http.js}
\groups{803/368/1278/540/ABD5DE/3/382/router,806/402/1270/536/BCDCE4/4.5/412/\D}
\tiles{808/422/1266/533/E3F0F5/15.5/router.js}
\groups{802/546/1112/808/A5CFDB/3.5/561/{animations/fesm2015}}
\tiles{805/580/1092/806/9ACBD7/13/browser.js,1094/580/1110/804/6EB1C4/3/\D}
\groups{1118/546/1276/868/A9D2DD/4/564/{forms/fesm2015}}
\tiles{1122/586/1273/865/ABD4DF/7.5/forms.js}
\groups{802/815/1112/1045/96C6D4/3.2/830/material,806/850/1048/1040/A5CFDB/5/860/\D}
\cells{808/872/948/978/CFE4EC,808/885/948/905/E0EDF2}
\tiles{810/905/946/976/FFFFFF/8/core.js,808/978/948/1040/A5CFDB/7.8/icon.js,950/872/1047/930/96C6D4/3.2/form-field.js,950/934/1047/988/8BC0CE/3/snack-bar.js,950/992/1025/1038/76B4C6/2.4/checkbox.js,1027/992/1047/1038/62A8BC/2/\D}
\groups{1052/848/1110/975/88BBCA/2.2/858/\D,1052/978/1110/1040/7AB5C6/2.2/988/\D,1118/876/1276/1043/8ABCCC/3/890/\D}
\tiles{1056/870/1108/972/A5CFDB/4/\D,1056/998/1108/1038/9ACBD7/3/\D,1122/908/1238/1040/6DB0C3/6/\D,1239/908/1274/1040/3F8599/5/\D}
\groups{1294/278/1470/638/86BACB/3/302/{rxjs/\_esm2015/internal},1299/332/1464/440/9ACBD7/3/349/operators,1299/446/1400/510/91C3D2/3.3/463/observable,1299/516/1357/580/8CBFCE/3.5/532/util,1294/650/1470/926/8ABCCC/2.4/677/{ngx-device-detector/fesm2015},1294/938/1404/1050/86BACB/4.5/963/url,1414/938/1470/1025/94C4D3/2/961/\D}
\tiles{1403/446/1464/480/7EB5C6/2.4/\D,1364/516/1412/545/6DB0C3/2/\D,1418/516/1464/545/6DB0C3/2/\D,1300/585/1358/632/6DB0C3/3/\D,1362/600/1396/632/6DB0C3/2/\D,1300/705/1464/920/A0CDD9/3.4/ngx-device-detector.js,1300/996/1372/1045/94C4D3/5/url.js,1420/985/1465/1020/B0D5DE/2/\D}
\cells{1377/996/1398/1040/6DA8BA,1414/1035/1470/1050/6DB0C3,1400/595/1412/610/6DB0C3,1402/552/1436/585/7EB5C6,1440/552/1464/585/5DA8BE,1402/615/1418/632/5DA8BE,1424/615/1438/632/5DA8BE,1444/615/1456/632/5DA8BE}
\foreach \i in {0,...,7}{\foreach \j in {0,...,2}{\pgfmathtruncatemacro\pct{95-12*\i}\pgfmathsetmacro\xl{1304+20*\i}\pgfmathsetmacro\yl{367+24*\j}
\fill[tealhi!\pct!teallo] (\xl,\yl) rectangle ++(18,21);}}
\foreach \i in {0,...,7}{\pgfmathsetmacro\xl{1304+13*\i}\fill[tealhi!60!teallo] (\xl,482) rectangle ++(11,10);\fill[tealhi!35!teallo] (\xl,496) rectangle ++(11,10);}
\fill[tealhi!30!teallo] (1408,482) rectangle (1432,505);
\cells{1498/167/1532/1030/6EAEC0,1500/180/1530/270/7ABAC9,1508/275/1523/640/79B3C5,1508/650/1523/1000/4C98AF,1508/1010/1515/1020/4C98AF,1498/1048/1516/1060/5DA8BE}
\end{scope}
% small bundles
\begin{scope}[crop={1105}{-370}{0.20982}{-0.25128}]
\groups{38/10/1555/495/6C9FF8/16.2/80/9-es2015.417f9cd6739bcfd9d595.js,60/168/1530/480/6298F5/9/208/{src/app/auth},70/262/1520/468/8AB1F8/5.8/287/auth.module.ngfactory.js + 15 modules (concatenated),80/318/1512/462/C2D6FB/3.5/332/{src/app},83/352/1506/458/E0EAFD/3.5/361/\D,
86/372/612/456/F5F8FE/2.5/378/\D,616/372/966/456/DCE7FC/2.5/378/\D,970/372/1232/456/C2D6FB/2.5/378/\D,1234/372/1440/456/D6E3FC/2.5/378/\D}
\tiles{86/384/425/456/FFFFFF/3.7/sign-up.component.ngfactory.js,427/384/590/456/C2D6FB/4.5/\D,591/384/612/456/9ABCF9/2/\D,618/384/794/456/FFFFFF/4.5/\D,796/384/960/456/AEC8FA/4.5/\D,972/384/1132/456/FAFCFF/4.5/\D,1134/384/1226/456/8AB1F8/4/\D,1236/384/1396/456/E0EAFD/4.5/\D,1398/384/1440/446/7AA5F5/2.5/\D,1444/372/1505/450/A6C3FA/3/\D}
\cells{961/384/966/456/8AB1F8,1227/384/1232/456/7AA5F5,1398/447/1440/456/5E94F0,1444/452/1505/458/C2D6FB}
\groups{38/528/726/1182/7BC8F6/6.7/602/polyfills-es5.5bfe7358ce69b7388a9a.js,60/686/697/1163/52B6F4/10/725/node\_modules,70/780/490/1008/60BCF2/4.5/805/{@angular-devkit/build-angular},83/870/282/998/A8DCF8/2.5/880/\D,286/870/468/998/6CC0F4/2.5/880/\D}
\lbls{279/852/2.9/{node\_modules/core-js}}
\tiles{86/890/132/934/EAF6FD/1.6/\D,86/936/132/976/DCF1FC/1.6/\D,86/978/132/995/C5E7FA/1.5/\D,136/890/162/912/D4EEFB/1.4/\D,136/915/162/940/CCEBFA/1.4/\D,136/943/162/970/C5E7FA/1.4/\D,136/973/162/995/C0E6FA/1.4/\D,290/890/320/920/94D4F6/1.4/\D,290/923/320/955/8CD0F6/1.4/\D,290/958/320/995/84CCF5/1.4/\D}
\foreach \i in {0,...,7}{\foreach \j in {0,...,7}{\pgfmathtruncatemacro\pct{95-10*\i}\pgfmathsetmacro\xl{165+15*\i}\pgfmathsetmacro\yl{890+13.4*\j}
\fill[corehi!\pct!corelo] (\xl,\yl) rectangle ++(13,11.5);}}
\foreach \i in {0,...,10}{\foreach \j in {0,...,7}{\pgfmathtruncatemacro\pct{100-9*\i}\pgfmathsetmacro\xl{324+13*\i}\pgfmathsetmacro\yl{890+13.4*\j}
\fill[corebhi!\pct!coreblo] (\xl,\yl) rectangle ++(11,11.5);}}
\groups{70/1020/490/1155/3EAEEE/5.7/1043/web-animations-js}
\tiles{80/1076/482/1147/6CC0F4/6.2/web-animations.min.js}
\groups{503/780/685/1080/44B0F0/4.6/805/{zone.js/dist}}
\tiles{511/836/677/1040/209DE8/2.8/zone-evergreen.js,511/1046/677/1076/1B79B8/3.5/zone-legacy.js}
\groups{503/1092/610/1154/2A9AE0/2/1108/\D}
\tiles{511/1126/602/1148/4EB3EE/2.4/runtime.js}
\cells{622/1092/685/1125/2A9AE0,630/1110/678/1118/4EB3EE,622/1135/685/1154/1C82C5}
\groups{764/528/1553/785/60A8FA/7/593/polyfills-es2015.6c46d9f71d76803c2a40.js,785/667/1530/770/3F96FF/4/692/node\_modules,798/724/1168/758/60A8FA/2/733/\D,1182/724/1484/758/2A86FF/2/733/\D}
\tiles{805/743/1162/752/A8CFFC/2/\D,1188/743/1478/752/50A0FF/2/\D}
\cells{1498/724/1518/740/1A70E0,1498/750/1518/758/1A70E0}
\groups{764/818/1553/930/60B0FF/3.9/849/2-es2015.07fbffba450e770d4d58.js}
\cells{785/884/1533/912/58B0FF}
\groups{38/1215/726/1555/6EE8FF/6.4/1288/11-es2015.a86ef441541413b38330.js,60/1370/705/1540/64E4FF/8.2/1410/{src/app/regist-shop},70/1460/692/1528/8DEEFF/3/1476/regist-shop.module.ngfactory.js + 5 modules (concatenated),80/1497/684/1522/C4F6FF/3/1504/\D}
\tiles{84/1512/408/1518/FFFFFF/1.5/\D,412/1512/595/1518/AAF0FF/1.5/\D,600/1512/658/1518/7EEAFF/1.5/\D}
\cells{662/1512/678/1518/55E0F8}
\fill[panelc,rounded corners=5pt] (764,972) rectangle (1553,1555);
\fill[loggrey,rounded corners=2pt] (1022,1118) -- (1070,1118) -- (1106,1170) -- (1104,1230) -- (1012,1248) -- (1012,1130) -- cycle;
\fill[loggrey,rounded corners=1pt] (1255,1118) -- (1305,1118) -- (1305,1140) -- (1270,1140) -- cycle;
\fill[loggrey,rounded corners=2pt] (1162,1362) -- (1168,1320) -- (1235,1276) -- (1305,1298) -- (1305,1350) -- (1290,1362) -- cycle;
\fill[logored] (1088,1118) -- (1190,1118) -- (1183,1148) -- (1116,1162) -- cycle;
\fill[logored] (1205,1118) -- (1232,1118) -- (1252,1150) -- (1228,1182) -- (1196,1148) -- cycle;
\fill[logored] (1268,1153) -- (1305,1150) -- (1305,1192) -- (1270,1190) -- (1250,1178) -- cycle;
\fill[logored] (1120,1172) -- (1180,1160) -- (1205,1188) -- (1175,1208) -- (1118,1205) -- cycle;
\fill[logored] (1210,1190) -- (1262,1195) -- (1250,1255) -- (1228,1268) -- (1198,1225) -- cycle;
\fill[logored] (1275,1205) -- (1305,1200) -- (1305,1285) -- (1260,1270) -- cycle;
\fill[logored] (1130,1220) -- (1190,1218) -- (1205,1265) -- (1158,1302) -- (1090,1245) -- cycle;
\fill[logored] (1012,1258) -- (1078,1250) -- (1100,1275) -- (1070,1305) -- (1012,1305) -- cycle;
\fill[logored] (1112,1283) -- (1150,1312) -- (1148,1362) -- (1122,1362) -- (1088,1312) -- cycle;
\fill[logored] (1012,1316) -- (1072,1316) -- (1090,1362) -- (1012,1362) -- cycle;
\node[lbl,font=\logofont\fontsize{13.5}{14}\selectfont,text=logor] at (1158,1392) {FoamTree};
\end{scope}
\end{tikzpicture}
\end{document}
